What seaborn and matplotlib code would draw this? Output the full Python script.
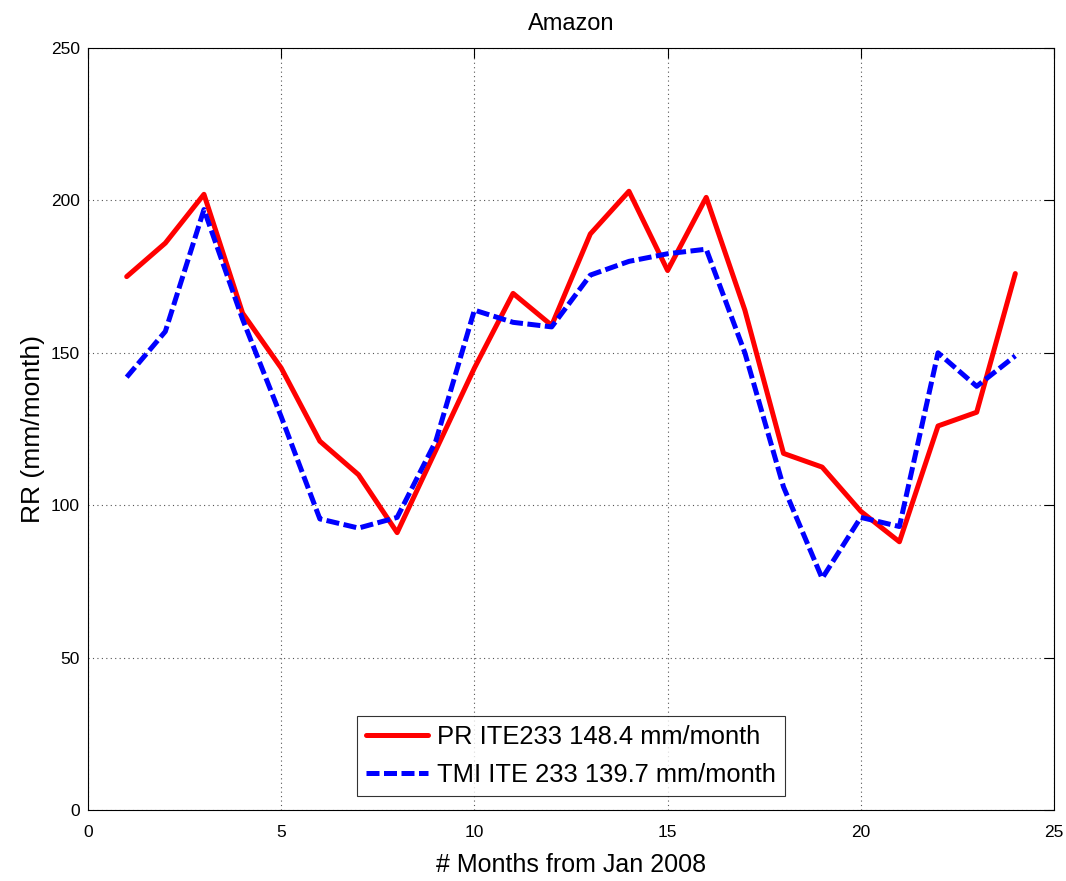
"""Monthly rain rate over the Amazon: PR vs TMI."""

import numpy as np
import pandas as pd
import matplotlib
matplotlib.use("Agg")
import matplotlib.pyplot as plt
import seaborn as sns

# Data
months = list(range(1, 25))
pr_rr = [175, 186, 202, 163, 145, 121, 110, 91, 118, 145, 169.5, 159,
         189, 203, 177, 201, 164, 117, 112.5, 98, 88, 126, 130.5, 176]
tmi_rr = [142, 157, 197, 161, 129, 95.5, 92.5, 96, 121, 164, 160, 158.5,
          175.5, 180, 182.5, 184, 150, 106, 76, 96, 93, 150, 139, 149]
pr_label = "PR ITE233 148.4 mm/month"
tmi_label = "TMI ITE 233 139.7 mm/month"

x_ticks = [0, 5, 10, 15, 20, 25]
y_ticks = [0, 50, 100, 150, 200, 250]

sns.set_theme(style="white")
plt.rcParams["font.family"] = ["Liberation Sans", "DejaVu Sans"]
plt.rcParams["text.color"] = "black"
plt.rcParams["axes.labelcolor"] = "black"
plt.rcParams["xtick.direction"] = "in"
plt.rcParams["ytick.direction"] = "in"

df = pd.DataFrame({"month": months, "pr": pr_rr, "tmi": tmi_rr})

fig = plt.figure(figsize=(10.66, 8.81), dpi=100)
ax = fig.add_axes([0.0826, 0.0806, 0.9061, 0.8649])

sns.lineplot(data=df, x="month", y="pr", ax=ax, color="#ff0000",
             linewidth=3.6, label=pr_label)
sns.lineplot(data=df, x="month", y="tmi", ax=ax, color="#0000ff",
             linewidth=3.6, label=tmi_label)
ax.lines[1].set_dashes((2.6, 0.9))

ax.set_xlim(0, 25)
ax.set_ylim(0, 250)
ax.set_xticks(x_ticks)
ax.set_yticks(y_ticks)
ax.tick_params(axis="both", labelsize=12.5, length=7, width=0.8,
               top=True, right=True, colors="black")
ax.tick_params(axis="x", pad=11)
ax.tick_params(axis="y", pad=6)
ax.grid(True, linestyle=(0, (1, 3)), color="#555555", linewidth=0.8)
for sp in ax.spines.values():
    sp.set_visible(True)
    sp.set_color("black")
    sp.set_linewidth(0.8)

ax.set_title("Amazon", fontsize=17, pad=13, color="black")
ax.set_xlabel("# Months from Jan 2008", fontsize=18, labelpad=9)
ax.set_ylabel("RR (mm/month)", fontsize=19, labelpad=4)

leg = ax.legend(loc="lower center", fontsize=18.4, frameon=True, fancybox=False,
                handlelength=2.4, borderaxespad=0.55, borderpad=0.35,
                labelspacing=0.55, handletextpad=0.35)
leg.get_frame().set_edgecolor("black")
leg.get_frame().set_linewidth(0.8)
for t in leg.get_texts():
    t.set_color("black")

fig.savefig("out.png", dpi=100)
plt.close(fig)
